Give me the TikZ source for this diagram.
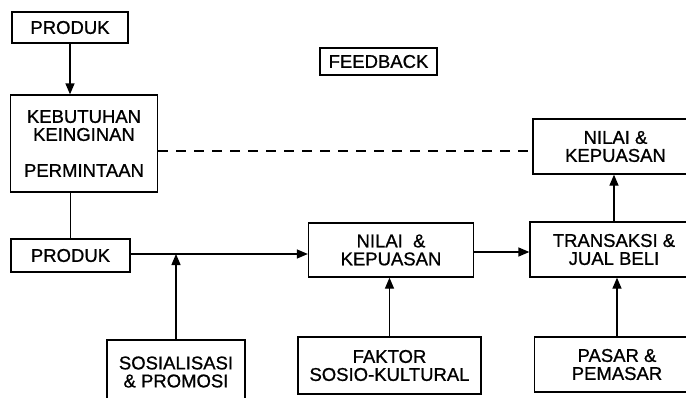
\documentclass[tikz,border=0pt]{standalone}
\usepackage{fontspec}
\setmainfont{Liberation Sans}[FakeBold=0.9]
\usetikzlibrary{arrows.meta}
\tikzset{
	kotak/.style={draw,line width=1.3pt,align=center,inner sep=0pt,
		font=\fontsize{18.5}{18}\selectfont},
	panah/.style={-{Triangle[length=11pt,width=9pt]},line width=1.3pt}
}
\begin{document}
\begin{tikzpicture}[x=1pt,y=-1pt]
	\useasboundingbox (0,0) rectangle (686,397);
	\node[kotak,minimum width=116pt,minimum height=31pt] (produkA) at (70,27.5) {PRODUK};
	\node[kotak,minimum width=147pt,minimum height=97pt] (kebutuhan) at (84,143.5) {KEBUTUHAN\\KEINGINAN\\[18pt]PERMINTAAN};
	\node[kotak,minimum width=119pt,minimum height=33pt] (produkB) at (70.5,255.5) {PRODUK};
	\node[kotak,minimum width=117pt,minimum height=27pt] (feedback) at (378.5,61.5) {FEEDBACK};
	\node[kotak,minimum width=165pt,minimum height=55pt] (nilaiB) at (615.5,146.5) {NILAI \&\\KEPUASAN};
	\node[kotak,minimum width=165pt,minimum height=54pt] (nilaiA) at (391,250) {NILAI~~\&\\KEPUASAN};
	\node[kotak,minimum width=168pt,minimum height=55pt] (transaksi) at (614,249.5) {TRANSAKSI \&\\JUAL BELI};
	\node[kotak,minimum width=138pt,minimum height=64pt] (sosial) at (176,372) {SOSIALISASI\\\& PROMOSI};
	\node[kotak,minimum width=183pt,minimum height=57pt] (faktor) at (389.5,365.5) {FAKTOR\\SOSIO-KULTURAL};
	\node[kotak,minimum width=165pt,minimum height=55pt] (pasar) at (617,364.5) {PASAR \&\\PEMASAR};
	\coordinate (umpan) at (0,151);
	\coordinate (simpul) at (176,254);
	\draw[panah] (produkA.south) -- (produkA.south |- kebutuhan.north);
	\draw[line width=1.3pt] (produkB.north |- kebutuhan.south) -- (produkB.north);
	\draw[dashed,dash pattern=on 10pt off 8pt,line width=1.2pt] (kebutuhan.east |- umpan) -- (nilaiB.west |- umpan);
	\draw[panah] (produkB.east |- simpul) -- (nilaiA.west |- simpul);
	\draw[panah] (sosial.north) -- (simpul);
	\draw[panah] (nilaiA.east |- 0,252) -- (transaksi.west |- 0,252);
	\draw[panah] (faktor.north) -- (faktor.north |- nilaiA.south);
	\draw[panah] (pasar.north) -- (pasar.north |- transaksi.south);
	\draw[panah] (transaksi.north) -- (transaksi.north |- nilaiB.south);
\end{tikzpicture}
\end{document}
